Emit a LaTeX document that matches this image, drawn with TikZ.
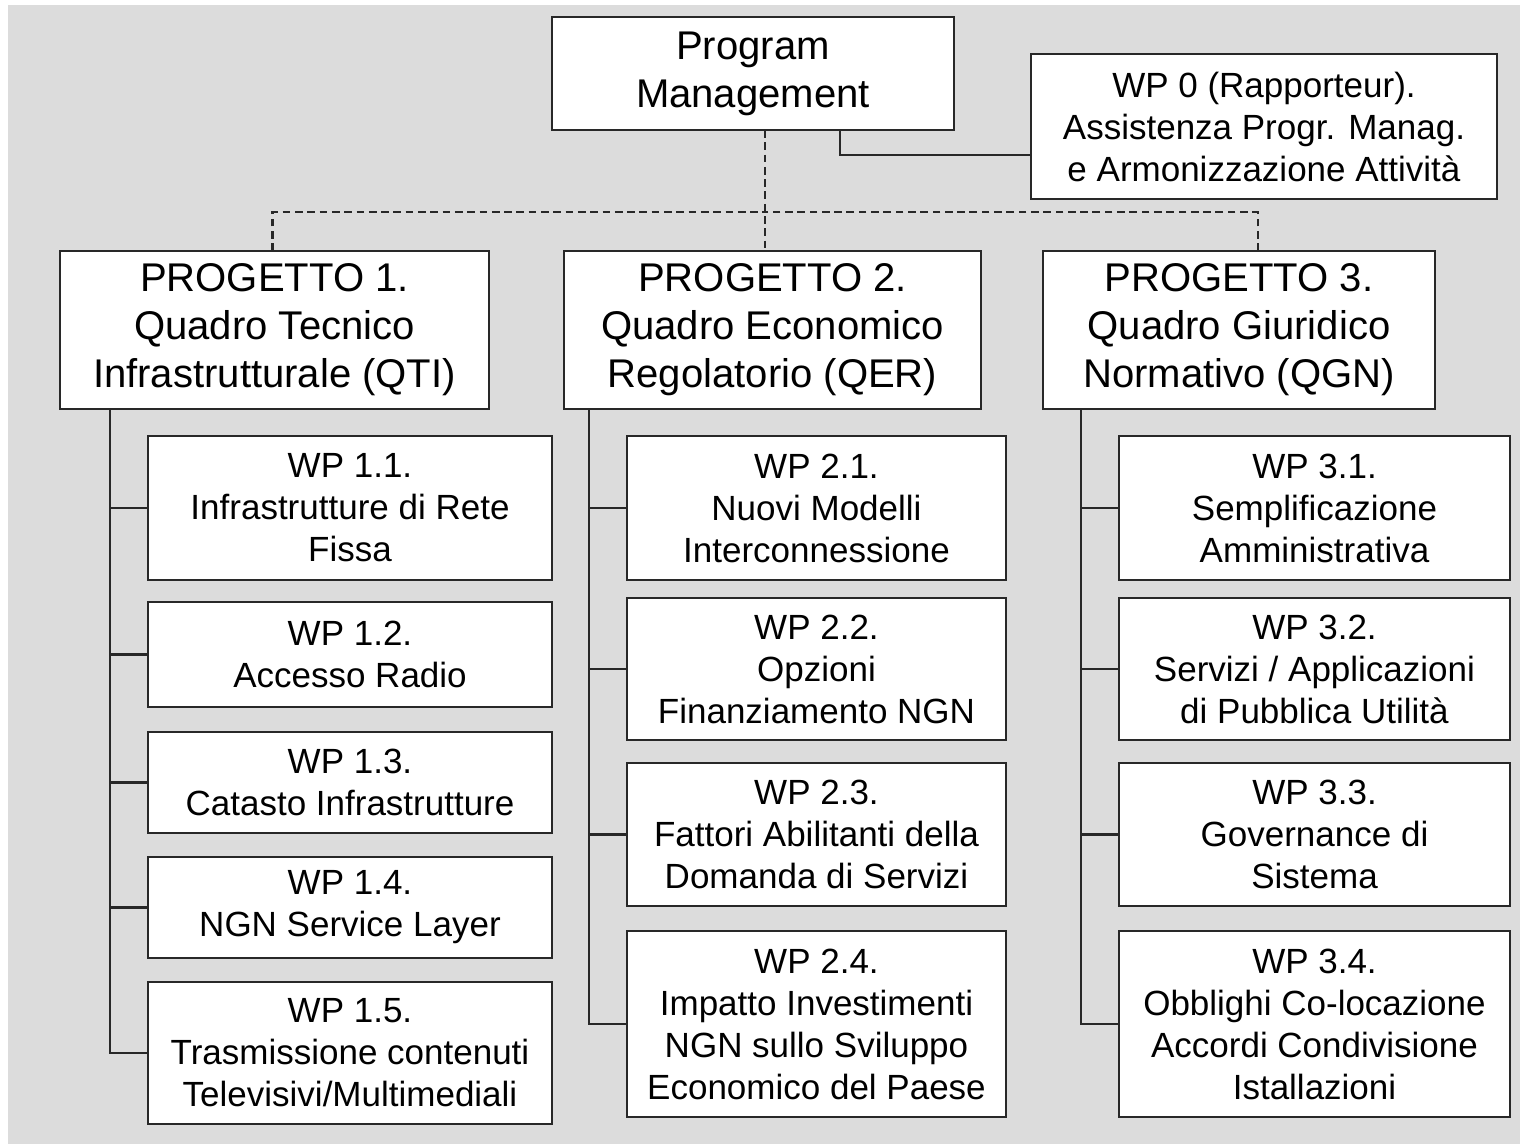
\documentclass[tikz,border=0pt]{standalone}
\usepackage{fontspec}
\setmainfont{Liberation Sans}
\usepackage{xcolor}
\usepackage{tikz}
\usetikzlibrary{positioning,calc}

\definecolor{bggray}{RGB}{220,220,220}
\definecolor{linegray}{RGB}{40,40,40}

\begin{document}
\begin{tikzpicture}[
  bigbox/.style={draw=linegray, fill=white, line width=0.6pt, align=center,
                 inner sep=0pt, outer sep=0pt, font=\fontsize{11.4}{13.7}\selectfont},
  wpbox/.style={draw=linegray, fill=white, line width=0.6pt, align=center,
                inner sep=0pt, outer sep=0pt, font=\fontsize{9.96}{11.95}\selectfont},
  col1/.style={wpbox, minimum width=4.04cm},
  col2/.style={wpbox, minimum width=3.79cm},
  col3/.style={wpbox, minimum width=3.91cm},
  line/.style={draw=linegray, line width=0.6pt},
  dline/.style={line, dash pattern=on 2.2pt off 1.3pt},
]
\useasboundingbox (0,0) rectangle (15.2,-11.44);
\fill[white] (0,0) rectangle (15.2,-11.44);
\fill[bggray] (0.08,-0.05) rectangle (15.2,-11.44);

\node[bigbox, minimum width=4.02cm, minimum height=1.13cm] (pm) at (7.53,-0.735)
  {Program\\Management};
\node[wpbox, minimum width=4.66cm, minimum height=1.45cm] (wp0) at (12.64,-1.265)
  {WP 0 (Rapporteur).\\Assistenza Progr. Manag.\\e Armonizzazione Attività};

\node[bigbox, minimum width=4.29cm, minimum height=1.58cm] (p1) at (2.745,-3.30)
  {PROGETTO 1.\\Quadro Tecnico\\Infrastrutturale (QTI)};
\node[bigbox, minimum width=4.17cm, minimum height=1.58cm] (p2) at (7.725,-3.30)
  {PROGETTO 2.\\Quadro Economico\\Regolatorio (QER)};
\node[bigbox, minimum width=3.92cm, minimum height=1.58cm] (p3) at (12.39,-3.30)
  {PROGETTO 3.\\Quadro Giuridico\\Normativo (QGN)};

\node[col1, minimum height=1.44cm] (wp11) at (3.50,-5.08)
  {WP 1.1.\\Infrastrutture di Rete\\Fissa};
\node[col1, minimum height=1.05cm, below=0.22cm of wp11] (wp12)
  {WP 1.2.\\Accesso Radio};
\node[col1, minimum height=1.01cm, below=0.25cm of wp12] (wp13)
  {WP 1.3.\\Catasto Infrastrutture};
\node[col1, minimum height=1.01cm, below=0.24cm of wp13] (wp14)
  {WP 1.4.\\NGN Service Layer};
\node[col1, minimum height=1.42cm, below=0.24cm of wp14] (wp15)
  {WP 1.5.\\Trasmissione contenuti\\Televisivi/Multimediali};

\node[col2, minimum height=1.44cm] (wp21) at (8.165,-5.08)
  {WP 2.1.\\Nuovi Modelli\\Interconnessione};
\node[col2, minimum height=1.42cm, below=0.18cm of wp21] (wp22)
  {WP 2.2.\\Opzioni\\Finanziamento NGN};
\node[col2, minimum height=1.43cm, below=0.23cm of wp22] (wp23)
  {WP 2.3.\\Fattori Abilitanti della\\Domanda di Servizi};
\node[col2, minimum height=1.86cm, below=0.25cm of wp23] (wp24)
  {WP 2.4.\\Impatto Investimenti\\NGN sullo Sviluppo\\Economico del Paese};

\node[col3, minimum height=1.44cm] (wp31) at (13.145,-5.08)
  {WP 3.1.\\Semplificazione\\Amministrativa};
\node[col3, minimum height=1.42cm, below=0.18cm of wp31] (wp32)
  {WP 3.2.\\Servizi / Applicazioni\\di Pubblica Utilità};
\node[col3, minimum height=1.43cm, below=0.23cm of wp32] (wp33)
  {WP 3.3.\\Governance di\\Sistema};
\node[col3, minimum height=1.86cm, below=0.25cm of wp33] (wp34)
  {WP 3.4.\\Obblighi Co-locazione\\Accordi Condivisione\\Istallazioni};

\coordinate (hub) at (7.65,-2.12);
\draw[dline] (pm.south -| hub) -- (p2.north -| hub);
\draw[dline] ([xshift=-0.02cm]p1.north) |- (hub);
\draw[dline] ([xshift=0.19cm]p3.north) |- (hub);
\draw[line] ([xshift=0.87cm]pm.south) |- ([yshift=-0.285cm]wp0.west);

\foreach \w in {wp11,wp12,wp13,wp14,wp15}
  \draw[line] ([xshift=0.5cm]p1.south west) |- (\w.west);
\foreach \w in {wp21,wp22,wp23,wp24}
  \draw[line] ([xshift=0.25cm]p2.south west) |- (\w.west);
\foreach \w in {wp31,wp32,wp33,wp34}
  \draw[line] ([xshift=0.38cm]p3.south west) |- (\w.west);
\end{tikzpicture}
\end{document}
